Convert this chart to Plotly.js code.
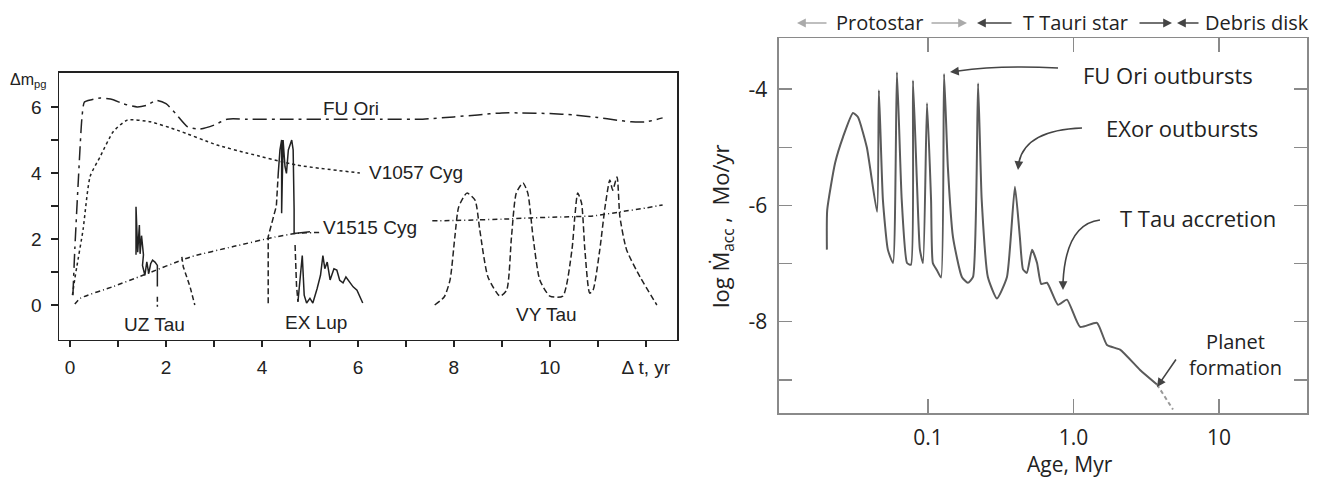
<!DOCTYPE html>
<html>
<head>
<meta charset="utf-8">
<script src="https://cdn.plot.ly/plotly-3.0.1.min.js"></script>
<style>html,body{margin:0;padding:0;background:#fff;}#chart{width:1328px;height:481px;}</style>
</head>
<body>
<div id="chart"></div>
<script>
// ---------- Left panel: light curves (Δm_pg vs Δt, yr) ----------
const fuOriX = [0.06, 0.1, 0.17, 0.25, 0.3, 0.45, 0.63, 0.9, 1.1, 1.4, 1.6, 1.8, 2.0, 2.2, 2.45, 2.7, 3.0, 3.27, 3.7, 4.5, 5.5, 6.5, 7.35, 8.0, 8.5, 9.0, 9.4, 10.0, 10.5, 11.0, 11.4, 11.7, 12.0, 12.35];
const fuOriY = [0.3, 1.7, 3.7, 5.7, 6.15, 6.22, 6.27, 6.22, 6.1, 6.0, 6.05, 6.2, 6.1, 5.8, 5.4, 5.33, 5.45, 5.63, 5.63, 5.63, 5.63, 5.63, 5.63, 5.7, 5.76, 5.82, 5.82, 5.8, 5.76, 5.68, 5.6, 5.55, 5.55, 5.67];

const v1057X = [0.05, 0.1, 0.14, 0.27, 0.42, 0.63, 0.9, 1.19, 1.67, 2.23, 3.06, 3.7, 4.73, 6.04];
const v1057Y = [0.3, 0.8, 1.15, 2.27, 3.9, 4.5, 5.25, 5.6, 5.55, 5.3, 4.85, 4.6, 4.24, 4.0];

const v1515X = [0.1, 0.21, 0.9, 1.52, 2.5, 3.4, 4.27, 4.73, 5.2, null, 7.55, 8.0, 8.5, 9.0, 9.6, 10.3, 10.9, 11.46, 12.0, 12.35];
const v1515Y = [0.03, 0.2, 0.56, 0.9, 1.45, 1.77, 2.06, 2.17, 2.2, null, 2.55, 2.56, 2.58, 2.6, 2.64, 2.67, 2.7, 2.82, 2.94, 3.03];

const uzTauSolidX = [1.375, 1.375, 1.41, 1.445, 1.46, 1.49, 1.53, 1.51, 1.56, 1.6, 1.64, 1.68, 1.72, 1.77, 1.82, 1.82];
const uzTauSolidY = [1.52, 2.98, 1.6, 2.42, 1.55, 2.1, 1.52, 1.2, 0.9, 1.31, 0.95, 1.25, 1.36, 1.3, 1.2, 0.56];
const uzTauDashX = [1.82, 1.82, null, 2.33, 2.36, 2.5, 2.6];
const uzTauDashY = [0.25, -0.05, null, 1.46, 1.16, 0.56, 0.0];

const exLupSolidX = [4.34, 4.375, 4.41, 4.41, 4.44, 4.48, 4.51, 4.55, 4.62, 4.65, 4.67, 4.67, 5.0, null, 4.75, 4.8, 4.84, 4.88, 4.93, 5.0, 5.06, 5.15, 5.22, 5.27, 5.31, 5.36, 5.42, 5.5, 5.56, 5.62, 5.69, 5.75, 5.8, 5.9, 5.98, 6.1];
const exLupSolidY = [4.0, 4.7, 5.0, 2.78, 5.0, 4.19, 3.99, 4.7, 5.0, 4.7, 2.9, 2.17, 2.22, null, 0.1, 0.8, 1.5, 0.3, 0.06, 0.2, 0.06, 0.5, 0.9, 1.5, 1.1, 1.3, 0.76, 1.1, 1.06, 0.75, 0.67, 0.85, 0.75, 0.55, 0.45, 0.06];
const exLupDashX = [4.13, 4.13, 4.3, 4.34, null, 4.69, 4.72, 4.75];
const exLupDashY = [0.05, 2.07, 3.0, 4.0, null, 1.82, 0.6, 0.1];

const vyTauX = [7.6, 7.8, 7.92, 8.02, 8.1, 8.27, 8.44, 8.54, 8.71, 8.96, 9.1, 9.2, 9.3, 9.44, 9.54, 9.65, 9.79, 10.0, 10.27, 10.46, 10.52, 10.58, 10.66, 10.73, 10.83, 10.9, 11.04, 11.15, 11.25, 11.31, 11.4, 11.46, 11.6, 11.88, 12.23];
const vyTauY = [0.0, 0.25, 0.76, 2.06, 2.97, 3.39, 3.18, 2.27, 0.85, 0.27, 0.45, 2.06, 3.39, 3.7, 3.39, 2.06, 0.76, 0.27, 0.27, 1.67, 2.67, 3.39, 3.09, 1.67, 0.36, 0.45, 1.67, 2.97, 3.79, 3.48, 3.88, 2.67, 1.67, 0.85, 0.0];

const leftXTicks = [0, 1, 2, 3, 4, 5, 6, 7, 8, 9, 10, 11, 12];
const leftXLabels = ['0', '', '2', '', '4', '', '6', '', '8', '', '10', '', 'Δ t, yr'];
const leftYTicks = [0, 1, 2, 3, 4, 5, 6];
const leftYLabels = ['0', '', '2', '', '4', '', '6'];

// ---------- Right panel: accretion history ----------
const ageMyr = [0.0202, 0.0203, 0.023, 0.0261, 0.0305, 0.033, 0.038, 0.0447, 0.046, 0.049, 0.053, 0.0575, 0.0612, 0.066, 0.0718, 0.0764, 0.0789, 0.084, 0.088, 0.0925, 0.0985, 0.105, 0.108, 0.115, 0.123, 0.129, 0.137, 0.1485, 0.171, 0.188, 0.204, 0.221, 0.234, 0.258, 0.298, 0.349, 0.396, 0.428, 0.45, 0.478, 0.519, 0.562, 0.6, 0.658, 0.783, 0.902, 1.11, 1.45, 1.7, 2.09, 2.87, 3.75];
const logMacc = [-6.76, -6.08, -5.27, -4.82, -4.41, -4.48, -5.0, -6.11, -4.02, -5.9, -6.76, -6.99, -3.71, -5.9, -6.99, -7.02, -3.85, -5.61, -6.76, -6.99, -4.24, -5.9, -6.99, -7.11, -7.24, -3.74, -5.34, -6.54, -7.23, -7.33, -7.23, -3.9, -5.9, -7.23, -7.6, -7.23, -5.68, -6.54, -7.1, -7.16, -6.76, -6.99, -7.35, -7.33, -7.71, -7.62, -8.09, -8.02, -8.4, -8.48, -8.83, -9.08];
const ageTailMyr = [3.75, 4.83];
const logMaccTail = [-9.08, -9.51];

const rightXTicks = [0.1, 1, 10];
const rightXLabels = ['0.1', '1.0', '10'];
const rightYTicks = [-4, -5, -6, -7, -8, -9];
const rightYLabels = ['-4', '', '-6', '', '-8', ''];

const INK = '#222';
const GREY = '#5a5a5a';
const AX = '#8a8a8a';
const leftFont = 'Liberation Sans, Arial, sans-serif';
const rightFont = 'Open Sans, Noto Sans, sans-serif';

function L(x, y, dash, shape) {
  return {x: x, y: y, xaxis: 'x', yaxis: 'y', mode: 'lines', hoverinfo: 'skip',
    line: {color: INK, width: 1.5, dash: dash, shape: shape || 'linear', smoothing: 0.6}, connectgaps: false};
}

const traces = [
  L(fuOriX, fuOriY, '14px,5px,3px,5px', 'spline'),
  L(v1057X, v1057Y, '3px,3px', 'spline'),
  L(v1515X, v1515Y, '5px,3px,1px,3px', 'spline'),
  L(uzTauSolidX, uzTauSolidY, 'solid'),
  L(uzTauDashX, uzTauDashY, '5px,3px'),
  L(exLupSolidX, exLupSolidY, 'solid'),
  L(exLupDashX, exLupDashY, '6px,3px'),
  L(vyTauX, vyTauY, '6px,3px', 'spline'),
  {x: ageMyr, y: logMacc, xaxis: 'x2', yaxis: 'y2', mode: 'lines', hoverinfo: 'skip',
    line: {color: GREY, width: 2, shape: 'spline', smoothing: 0.5}},
  {x: ageTailMyr, y: logMaccTail, xaxis: 'x2', yaxis: 'y2', mode: 'lines', hoverinfo: 'skip',
    line: {color: '#999', width: 2, dash: '4px,3px'}}
];

function px2X(px) { return (px - 59) / 1248; }
function px2Y(py) { return 1 - (py - 38) / 375; }

function leftLabel(text, x, y) {
  return {text: text, x: x, y: y, xref: 'x', yref: 'y', showarrow: false,
    font: {family: leftFont, size: 19, color: INK}, xanchor: 'center', yanchor: 'middle'};
}
function rightLabel(text, px, py, size) {
  return {text: text, x: px2X(px), y: px2Y(py), xref: 'paper', yref: 'paper', showarrow: false,
    font: {family: rightFont, size: size || 22, color: INK}, xanchor: 'center', yanchor: 'middle'};
}
function arrow(px, py, ax, ay, color) {
  return {text: '', x: px2X(px), y: px2Y(py), xref: 'paper', yref: 'paper', showarrow: true,
    ax: ax, ay: ay, arrowhead: 2, arrowsize: 1.1, arrowwidth: 1.6, arrowcolor: color || '#444', standoff: 0};
}

const annotations = [
  leftLabel('FU Ori', 5.85, 5.95),
  leftLabel('V1057 Cyg', 7.2, 4.0),
  leftLabel('V1515 Cyg', 6.25, 2.36),
  leftLabel('UZ Tau', 1.77, -0.6),
  leftLabel('EX Lup', 5.12, -0.52),
  leftLabel('VY Tau', 9.94, -0.3),
  {text: 'Δm<sub>pg</sub>', x: px2X(28), y: px2Y(80), xref: 'paper', yref: 'paper', showarrow: false,
    font: {family: leftFont, size: 16, color: INK}, xanchor: 'center', yanchor: 'middle'},

  rightLabel('Protostar', 879, 23, 20),
  rightLabel('T Tauri star', 1075, 23, 20),
  rightLabel('Debris disk', 1257, 23, 20),
  arrow(797, 23, 31, 0, '#aaa'),
  arrow(967, 23, -37, 0, '#aaa'),
  arrow(977, 23, 36, 0, '#444'),
  arrow(1172, 23, -34, 0, '#444'),
  arrow(1177, 23, 23, 0, '#444'),

  rightLabel('FU Ori outbursts', 1168, 75),
  rightLabel('EXor outbursts', 1182, 128),
  rightLabel('T Tau accretion', 1198, 218),
  rightLabel('Planet<br>formation', 1235, 354, 20),
  arrow(950, 72, 10, -1),
  arrow(1018, 170, 1, -10),
  arrow(1063, 290, 0, -10),
  arrow(1157, 387, 20, -29),

  {text: 'log Ṁ<sub>acc</sub> ,  Mo/yr', x: px2X(722), y: px2Y(226), xref: 'paper', yref: 'paper', showarrow: false,
    textangle: -90, font: {family: rightFont, size: 22, color: INK}, xanchor: 'center', yanchor: 'middle'},
  {text: 'Age, Myr', x: px2X(1070), y: px2Y(464), xref: 'paper', yref: 'paper', showarrow: false,
    font: {family: rightFont, size: 21, color: INK}, xanchor: 'center', yanchor: 'middle'}
];

function P(px, py) { return px2X(px).toFixed(4) + ',' + px2Y(py).toFixed(4); }
const curveStyle = {color: '#444', width: 1.6};
const shapes = [
  {type: 'path', xref: 'paper', yref: 'paper', line: curveStyle,
    path: 'M' + P(1058, 68) + ' Q' + P(1000, 65) + ' ' + P(958, 71)},
  {type: 'path', xref: 'paper', yref: 'paper', line: curveStyle,
    path: 'M' + P(1082, 128) + ' Q' + P(1026, 130) + ' ' + P(1019, 162)},
  {type: 'path', xref: 'paper', yref: 'paper', line: curveStyle,
    path: 'M' + P(1100, 220) + ' Q' + P(1066, 224) + ' ' + P(1063, 282)}
];

const layout = {
  width: 1328, height: 481,
  margin: {l: 59, r: 21, t: 38, b: 68},
  paper_bgcolor: '#fff', plot_bgcolor: '#fff',
  showlegend: false,
  xaxis: {domain: [0, 0.4952], range: [-0.23, 12.65], anchor: 'y',
    tickmode: 'array', tickvals: leftXTicks, ticktext: leftXLabels,
    ticks: 'outside', ticklen: 6, tickwidth: 1.5, tickcolor: INK,
    showline: true, linecolor: INK, linewidth: 1.5, mirror: true,
    showgrid: false, zeroline: false, ticklabelstandoff: 4,
    tickfont: {family: leftFont, size: 19, color: INK}},
  xaxis3: {domain: [0, 0.4952], range: [-0.23, 12.65], anchor: 'y', overlaying: 'x', side: 'top',
    tickmode: 'array', tickvals: leftXTicks, ticks: 'inside', ticklen: 6, tickwidth: 1.5, tickcolor: INK,
    showticklabels: false, showline: false, showgrid: false, zeroline: false},
  yaxis: {domain: [0.1947, 0.9067], range: [-1.06, 7.03], anchor: 'x',
    tickmode: 'array', tickvals: leftYTicks, ticktext: leftYLabels,
    ticks: 'outside', ticklen: 7, tickwidth: 1.5, tickcolor: INK,
    showline: true, linecolor: INK, linewidth: 1.5, mirror: true,
    showgrid: false, zeroline: false, ticklabelstandoff: 5,
    tickfont: {family: leftFont, size: 19, color: INK}},
  xaxis2: {domain: [0.5769, 1], type: 'log', range: [-2.024, 1.605], anchor: 'y2',
    tickmode: 'array', tickvals: rightXTicks, ticktext: rightXLabels,
    ticks: 'inside', ticklen: 14, tickwidth: 1.5, tickcolor: AX,
    showline: true, linecolor: AX, linewidth: 1.5, mirror: 'ticks',
    showgrid: false, zeroline: false, ticklabelstandoff: 5,
    tickfont: {family: rightFont, size: 21, color: INK}},
  yaxis2: {domain: [0, 1], range: [-9.57, -3.12], anchor: 'x2',
    tickmode: 'array', tickvals: rightYTicks, ticktext: rightYLabels,
    ticks: 'inside', ticklen: 13, tickwidth: 1.5, tickcolor: AX,
    showline: true, linecolor: AX, linewidth: 1.5, mirror: 'ticks',
    showgrid: false, zeroline: false, ticklabelstandoff: 6,
    tickfont: {family: rightFont, size: 21, color: INK}},
  annotations: annotations,
  shapes: shapes
};

Plotly.newPlot('chart', traces, layout, {staticPlot: true, displayModeBar: false});
</script>
</body>
</html>
